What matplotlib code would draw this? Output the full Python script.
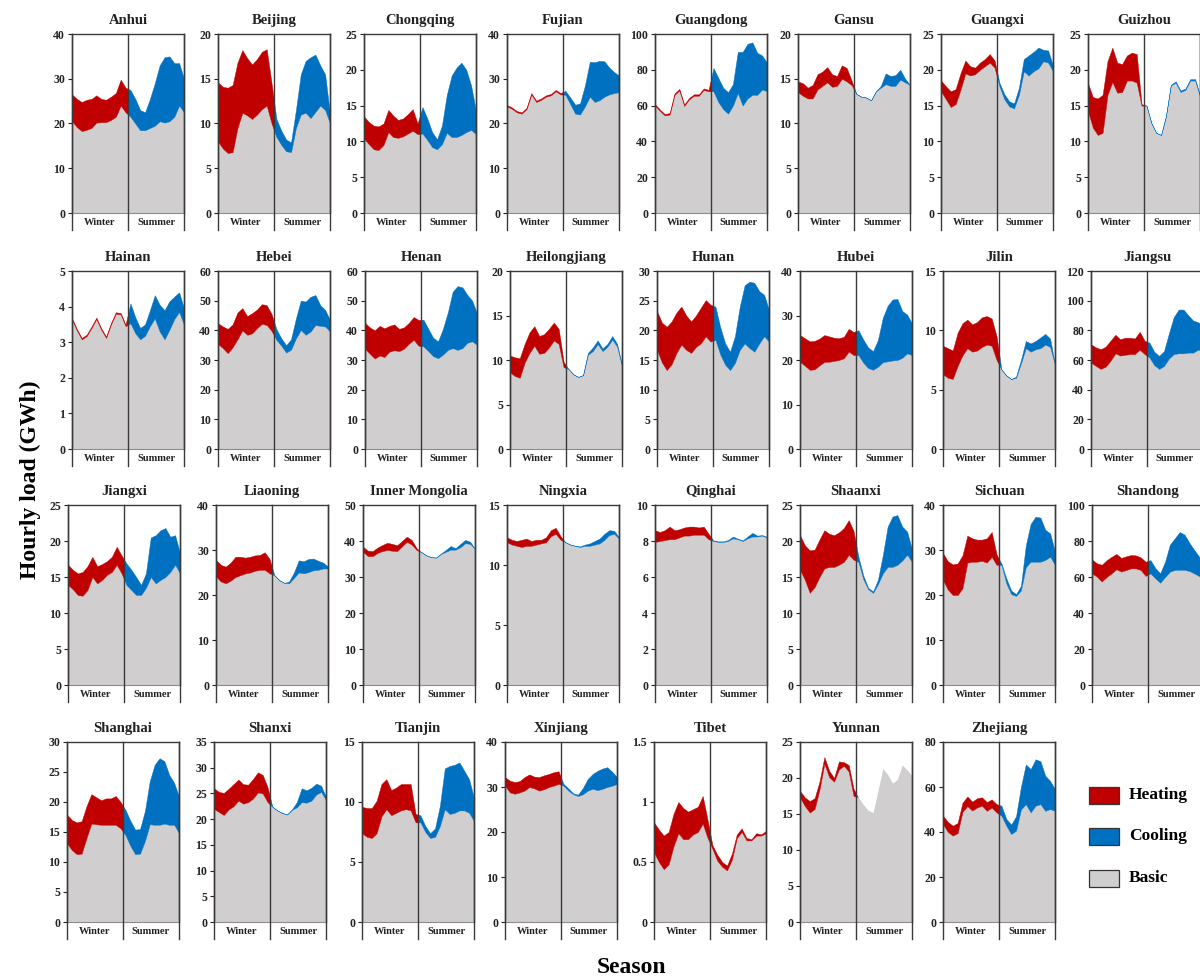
import matplotlib
matplotlib.use("Agg")
import matplotlib.pyplot as plt
from matplotlib.patches import Rectangle
import numpy as np

plt.rcParams['font.family'] = ['Liberation Serif', 'DejaVu Serif']
plt.rcParams['font.weight'] = 'bold'

# ---------------------------------------------------------------- data
provinces = ['Anhui', 'Beijing', 'Chongqing', 'Fujian', 'Guangdong', 'Gansu', 'Guangxi', 'Guizhou',
             'Hainan', 'Hebei', 'Henan', 'Heilongjiang', 'Hunan', 'Hubei', 'Jilin', 'Jiangsu',
             'Jiangxi', 'Liaoning', 'Inner Mongolia', 'Ningxia', 'Qinghai', 'Shaanxi', 'Sichuan', 'Shandong',
             'Shanghai', 'Shanxi', 'Tianjin', 'Xinjiang', 'Tibet', 'Yunnan', 'Zhejiang']

y_max = [40, 20, 25, 40, 100, 20, 25, 25,
         5, 60, 60, 20, 30, 40, 15, 120,
         25, 40, 50, 15, 10, 25, 40, 100,
         30, 35, 15, 40, 1.5, 25, 80]

y_step = [10, 5, 5, 10, 20, 5, 5, 5,
          1, 10, 10, 5, 5, 10, 5, 20,
          5, 10, 10, 5, 2, 5, 10, 20,
          5, 5, 5, 10, 0.5, 5, 20]

# load carried by the extra band in summer (heating for Tibet, cooling elsewhere)
summer_use = ['Cooling'] * 28 + ['Heating', 'Cooling', 'Cooling']

# two-hourly profiles (GWh), 12 values per season
winter_basic = [
    [20.5, 19.2, 18.3, 18.6, 19, 20.2, 20.3, 20.3, 20.8, 21.5, 24, 22.5],
    [8, 7.2, 6.7, 6.8, 9.5, 11.2, 10.9, 10.5, 11, 11.6, 12, 10],
    [10.4, 9.6, 8.9, 8.8, 9.5, 11.3, 10.6, 10.5, 10.7, 11.1, 11.5, 11],
    [23.8, 23.3, 22.5, 22.2, 23.2, 26.5, 24.8, 25.3, 26, 26.3, 27.2, 26.5],
    [60, 57, 54.5, 55, 66, 68.5, 59.8, 63.5, 65.5, 65.5, 68.8, 68],
    [13.5, 13.1, 12.8, 12.8, 13.8, 14.2, 14.6, 14.1, 14.2, 15, 14.7, 14.3],
    [17, 15.9, 14.8, 15.2, 17.2, 19.5, 19.2, 19.4, 20, 20.5, 21, 20.3],
    [14.2, 11.9, 10.9, 11.2, 16.5, 18.3, 16.8, 16.9, 18.5, 18.5, 18.2, 15],
    [3.63, 3.33, 3.08, 3.17, 3.4, 3.65, 3.35, 3.12, 3.5, 3.8, 3.78, 3.45],
    [35.4, 34, 32.3, 34.3, 37, 40, 38.5, 39, 40.7, 42.2, 41.8, 39.8],
    [33.8, 32.1, 30.5, 31.5, 31, 32.8, 33.3, 33, 33.8, 35.5, 36.8, 34.8],
    [8.6, 8.2, 8, 9.7, 10.8, 11.6, 10.7, 10.8, 11.4, 12.2, 11.8, 9.2],
    [16.7, 14.6, 13.3, 14.3, 16.2, 17.6, 16.7, 16.2, 17.2, 17.8, 19, 18.1],
    [19.6, 18.7, 17.8, 17.9, 18.8, 19.6, 19.6, 19.8, 20, 20.4, 21.9, 21.1],
    [6.3, 6, 5.9, 7, 7.9, 8.5, 8.2, 8.3, 8.6, 8.8, 8.7, 7.5],
    [58.3, 56, 54, 55.5, 59.5, 64.5, 63, 63.5, 64, 64, 67, 64],
    [13.9, 13.3, 12.5, 12.4, 13.2, 15, 14.1, 14.6, 15.3, 15.7, 16.7, 15.5],
    [24.1, 23, 22.6, 23.2, 24, 24.4, 24.8, 25, 25.4, 25.6, 25.6, 24.8],
    [37, 35.8, 35.8, 36.7, 37.2, 37.5, 37.3, 37.2, 38.5, 39.8, 39, 37.5],
    [11.9, 11.7, 11.6, 11.5, 11.6, 11.6, 11.7, 11.8, 11.9, 12.4, 12.6, 12.1],
    [7.95, 8, 8.05, 8.1, 8.1, 8.2, 8.3, 8.3, 8.35, 8.35, 8.35, 8.1],
    [16, 14.6, 12.8, 13.6, 15, 16.2, 16.4, 16.4, 16.7, 17.1, 18.1, 17.4],
    [23.3, 21.2, 20, 20, 21.5, 27.2, 27.4, 27.4, 27.6, 27.2, 28.5, 26.7],
    [62, 60.2, 57.5, 60, 62, 64.3, 63, 63.9, 64.8, 64.8, 63.9, 60.6],
    [13.1, 12, 11.3, 11.4, 14, 16.4, 16.3, 16.2, 16.2, 16.2, 16.2, 15.6],
    [22, 21.4, 20.8, 21.9, 22.5, 23.6, 23, 23.3, 24, 25.2, 25, 23.3],
    [7.4, 7.1, 7, 7.4, 8.8, 9.4, 8.9, 9.1, 9.3, 9.4, 9.3, 8.3],
    [30.3, 28.8, 28.5, 28.8, 29.2, 30, 29.7, 29.2, 29.5, 30, 30.3, 30.7],
    [0.58, 0.5, 0.44, 0.48, 0.63, 0.74, 0.69, 0.69, 0.73, 0.75, 0.82, 0.7],
    [17.3, 16.1, 15.2, 15.7, 18.4, 22, 20.1, 19.5, 21.2, 21.7, 20.9, 17.5],
    [43.5, 40, 38.4, 39.5, 49, 51.5, 49.5, 50.9, 51.7, 49.4, 50.9, 48.7],
]

winter_total = [
    [26.5, 25.5, 24.8, 25.3, 25.5, 26.3, 25.5, 25.3, 26, 26.8, 29.8, 28],
    [14.6, 14.1, 14, 14.3, 16.8, 18.2, 17.3, 16.6, 17.2, 18, 18.3, 14.5],
    [13.5, 12.7, 12.2, 12.1, 12.5, 14.4, 13.6, 13.0, 13.2, 13.8, 14.5, 12.5],
    [24.1, 23.6, 22.8, 22.5, 23.5, 26.8, 25.1, 25.6, 26.3, 26.6, 27.5, 26.8],
    [60.8, 57.8, 55.3, 55.8, 66.8, 69.3, 60.6, 64.3, 66.3, 66.3, 69.6, 68.8],
    [14.7, 14.5, 14, 14.3, 15.5, 15.8, 16.3, 15.5, 15.3, 16.5, 16.2, 14.8],
    [18.5, 17.7, 17, 17.3, 19.5, 21.3, 20.5, 20.3, 21, 21.5, 22.2, 21.3],
    [18.1, 16.2, 16, 16.5, 21.2, 23.1, 21, 20.8, 22, 22.4, 22.2, 15.2],
    [3.67, 3.37, 3.12, 3.21, 3.44, 3.69, 3.39, 3.16, 3.54, 3.84, 3.82, 3.49],
    [42.4, 41.3, 40.5, 42, 46, 47.5, 44.8, 45.8, 47, 48.8, 48.5, 45.5],
    [42.5, 41, 40, 41.5, 40.7, 41.5, 42, 40.5, 41, 42.5, 44.5, 43.5],
    [10.5, 10.3, 10.2, 11.8, 13.1, 13.8, 12.7, 12.9, 13.5, 14.2, 13.5, 9.8],
    [23.2, 21.3, 20.6, 21.5, 23, 24, 22.5, 21.5, 22.5, 23.8, 25.1, 24.3],
    [25.6, 24.9, 24.2, 24.3, 24.8, 25.6, 25.3, 25, 24.9, 25.2, 27, 26.3],
    [8.7, 8.5, 8.3, 9.8, 10.6, 10.9, 10.5, 10.7, 11.1, 11.2, 11, 9.5],
    [70.6, 68.5, 67.3, 69, 73, 77, 74, 75, 75, 74.5, 79, 73],
    [16.7, 16, 15.5, 15.7, 16.5, 17.8, 16.5, 16.8, 17.2, 17.8, 19.2, 18],
    [27.8, 26.7, 26.3, 27.2, 28.5, 28.5, 28.3, 28.5, 28.8, 28.9, 29.5, 28],
    [38.4, 37.3, 37.2, 38.2, 38.9, 39.5, 39.2, 38.8, 40, 41.2, 40.3, 38],
    [12.3, 12.1, 12, 12.1, 12.2, 12, 12.1, 12.1, 12.3, 12.9, 13.1, 12.4],
    [8.6, 8.5, 8.6, 8.8, 8.6, 8.65, 8.75, 8.8, 8.8, 8.75, 8.8, 8.4],
    [20.8, 19.4, 18.7, 18.8, 20.2, 21.5, 21, 20.8, 21.2, 21.8, 22.9, 21.4],
    [29.3, 27.5, 26.8, 27, 28.8, 33.2, 32.6, 32.3, 32.3, 32.6, 34, 29],
    [69.8, 67.6, 66.8, 69.3, 71.2, 72.8, 70.6, 71.5, 72.2, 72, 70.9, 68.5],
    [17.9, 17, 16.6, 16.8, 19.3, 21.3, 20.8, 20.3, 20.6, 20.6, 21, 20],
    [26, 25.3, 25.1, 25.9, 26.8, 27.7, 26.8, 26.7, 27.8, 29.1, 28.6, 26.2],
    [9.6, 9.5, 9.5, 10.1, 11.5, 11.9, 11, 11.2, 11.5, 11.5, 11.5, 9],
    [32.2, 31.4, 31.1, 31.3, 32.2, 32.8, 32.3, 32.2, 32.6, 32.9, 33.3, 33.5],
    [0.83, 0.77, 0.72, 0.75, 0.9, 1.0, 0.95, 0.92, 0.94, 0.96, 1.05, 0.85],
    [18.2, 17.3, 16.8, 17.2, 19.5, 22.9, 21, 20, 22.3, 22.2, 21.8, 18.5],
    [47.2, 44.5, 42.8, 44, 53, 55.8, 53.5, 55, 55.4, 53.3, 54.5, 52.4],
]

summer_basic = [
    [21.5, 20, 18.5, 18.5, 19, 19.5, 20.5, 20.2, 20.5, 21.5, 24, 22.5],
    [8.5, 7.6, 6.9, 6.8, 9.5, 11, 11.2, 10.6, 11.3, 12, 11.5, 10],
    [11.1, 10.2, 9.2, 8.9, 9.6, 11.2, 10.6, 10.6, 10.9, 11.3, 11.6, 11],
    [26.4, 24.3, 22.2, 22, 23.8, 26, 24.8, 25.2, 26, 26.5, 26.8, 27],
    [68, 62, 58, 55.5, 60, 67, 60, 64, 66, 66, 69, 68],
    [13.3, 13, 12.9, 12.6, 13.6, 14, 14.4, 14.2, 14.2, 14.9, 14.6, 14.3],
    [17.7, 15.9, 14.9, 14.6, 16.5, 19.8, 19.2, 19.8, 20.2, 21.2, 21, 19.8],
    [15, 12.6, 11.2, 10.9, 13.5, 17.8, 18.2, 16.9, 17.2, 18.5, 18.5, 16.3],
    [3.53, 3.25, 3.08, 3.18, 3.45, 3.67, 3.3, 3.08, 3.35, 3.65, 3.85, 3.49],
    [36.8, 34.8, 32.5, 33.5, 37.3, 40.1, 38.5, 39.6, 41.8, 41.5, 41.3, 39.6],
    [34.6, 33, 31.3, 30.6, 31.8, 33.4, 34, 33.4, 34, 35.8, 36.3, 35.1],
    [9, 8.4, 8.1, 8.3, 10.6, 11, 11.8, 11, 11.5, 12.3, 11.5, 9.3],
    [18.4, 15.9, 14.2, 13.3, 14.5, 16.7, 17.8, 17, 16.4, 17.8, 19, 18.1],
    [21.1, 19.4, 18.2, 17.8, 18.5, 19.5, 19.7, 19.9, 20, 20.5, 21.5, 21.1],
    [6.7, 6.2, 5.9, 6, 7.2, 8.5, 8.2, 8.4, 8.5, 8.8, 8.6, 7.1],
    [61.7, 56.5, 54, 56, 61, 64, 64.5, 64.5, 65, 65, 67, 66],
    [13.9, 13.2, 12.5, 12.5, 13.5, 15, 14.1, 14.6, 15, 15.7, 16.7, 15.5],
    [24.4, 23.3, 22.7, 22.6, 23.8, 25, 24.8, 25.1, 25.5, 25.6, 25.9, 25.9],
    [36.9, 36, 35.5, 35.4, 36.4, 37, 37.6, 37.6, 38.3, 39.4, 39.2, 37.8],
    [11.9, 11.7, 11.6, 11.5, 11.6, 11.6, 11.7, 11.8, 12.1, 12.5, 12.6, 12.2],
    [8, 7.95, 7.95, 8, 8.15, 8.1, 8, 8.15, 8.25, 8.25, 8.3, 8.2],
    [17.1, 14.7, 13.3, 12.8, 14, 15.5, 16.4, 16.4, 16.7, 17.3, 18.1, 17.1],
    [26.7, 22.6, 20.2, 19.8, 21, 26.2, 27.4, 27.4, 27.4, 27.8, 28.5, 26.7],
    [62, 59.3, 56.8, 60, 63, 63.9, 64, 64, 63.3, 62, 60.5, 60.2],
    [14.5, 12.7, 11.3, 11.4, 13.5, 16.3, 16.2, 16.2, 16.4, 16.2, 16.2, 14.8],
    [22.4, 21.7, 21.2, 20.9, 21.8, 22.3, 23.3, 23.2, 23.6, 24.8, 25.3, 23.7],
    [8.3, 7.5, 7, 7.1, 8, 9.4, 9, 9.1, 9.3, 9.3, 9.1, 8.4],
    [30.3, 29.2, 28.4, 28, 28.4, 29.2, 29.6, 29.3, 29.6, 30, 30.3, 30.7],
    [0.61, 0.51, 0.46, 0.43, 0.52, 0.7, 0.75, 0.68, 0.68, 0.72, 0.72, 0.74],
    [17.3, 16.3, 15.5, 15.2, 18.2, 21.3, 20.5, 19.3, 19.8, 21.8, 21.1, 20.3],
    [47.2, 42.8, 39.1, 40.6, 50, 52.4, 48.7, 51.7, 52.4, 49.4, 50.2, 49.4],
]

summer_total = [
    [27.5, 25.5, 23, 22.5, 25.5, 29, 33, 34.8, 35, 33.5, 33.5, 30],
    [10.5, 9.2, 8.2, 7.9, 11.5, 15.5, 17, 17.4, 17.7, 16.5, 15.5, 11],
    [14.8, 13.2, 11.3, 10.3, 12.2, 16.5, 19.2, 20.3, 21, 20, 17.8, 14.2],
    [27.3, 25.8, 24.2, 24.5, 28.5, 33.8, 33.7, 34, 33.9, 32.5, 31.5, 30.7],
    [81, 75.5, 70, 67.5, 72, 90, 90, 94.5, 95.3, 89.5, 88, 84],
    [13.3, 13, 12.9, 12.6, 13.6, 14.2, 15.6, 15.3, 15.4, 16.0, 15.0, 14.3],
    [18.2, 16.6, 15.6, 15.3, 17.5, 21.5, 22, 22.5, 23.1, 22.8, 22.7, 20.6],
    [15, 12.6, 11.2, 10.9, 13.5, 17.9, 18.4, 17.1, 17.4, 18.7, 18.7, 16.4],
    [4.09, 3.7, 3.4, 3.5, 3.9, 4.32, 4.05, 3.9, 4.15, 4.28, 4.4, 3.95],
    [40.4, 37.3, 35, 37, 44, 50, 49.7, 51.3, 51.9, 48.5, 46.9, 43.5],
    [43.6, 40.5, 37.5, 36.3, 40.5, 46, 53, 54.9, 54.5, 52, 50, 45.8],
    [9, 8.4, 8.1, 8.3, 10.8, 11.4, 12.2, 11.3, 11.8, 12.7, 11.8, 9.4],
    [24, 20.5, 17.8, 16.4, 19, 24, 27.6, 28.2, 28, 26.6, 26, 23.4],
    [26.7, 24.6, 22.8, 22, 24.5, 29.5, 32.2, 33.6, 33.7, 31, 30.2, 28.2],
    [6.7, 6.2, 5.9, 6.1, 7.5, 9.1, 8.9, 9.1, 9.4, 9.7, 9.3, 7.1],
    [71.7, 65.5, 62.8, 66, 78, 89, 94, 94, 90, 86.5, 85.5, 83],
    [16.9, 16, 15, 13.9, 15.5, 20.5, 20.8, 21.5, 21.8, 20.6, 20.8, 18.3],
    [24.4, 23.3, 22.7, 23, 25, 27.7, 27.5, 28, 28.1, 27.6, 27.2, 26.3],
    [36.9, 36, 35.5, 35.4, 36.5, 37.5, 38.6, 38, 39.2, 40.3, 39.8, 37.8],
    [11.9, 11.7, 11.6, 11.55, 11.7, 11.8, 12, 12.2, 12.6, 12.9, 12.85, 12.3],
    [8.03, 7.98, 7.98, 8.05, 8.25, 8.13, 8.03, 8.25, 8.45, 8.3, 8.33, 8.23],
    [17.8, 15.2, 13.5, 13, 14.6, 18, 22, 23.4, 23.6, 22, 21.3, 18.8],
    [27, 23.7, 21, 20.2, 22, 31, 35.8, 37.4, 37.2, 34.5, 33.7, 29.6],
    [69.4, 65, 62, 68.5, 78, 81.5, 85, 83.5, 79, 75, 71.3, 68.5],
    [18.7, 16.9, 15.4, 15.5, 18.5, 23.5, 26.2, 27.3, 26.8, 24.5, 23.2, 20.9],
    [22.4, 21.7, 21.2, 20.9, 21.9, 23.3, 26, 25.6, 26.1, 26.9, 26.5, 24.3],
    [8.9, 8, 7.4, 7.8, 9.7, 12.8, 13, 13.1, 13.3, 12.6, 11.9, 10.3],
    [30.7, 29.7, 28.6, 28.3, 29.8, 31.8, 32.9, 33.6, 34.1, 34.4, 33.4, 32.2],
    [0.64, 0.56, 0.5, 0.47, 0.57, 0.73, 0.78, 0.7, 0.69, 0.74, 0.73, 0.76],
    [17.3, 16.3, 15.5, 15.2, 18.2, 21.3, 20.5, 19.3, 19.8, 21.8, 21.1, 20.3],
    [51.7, 45.8, 43.3, 47, 60, 70, 68, 72.3, 71.5, 65, 62.7, 59],
]

# ---------------------------------------------------------------- style
COLORS = {'Heating': '#C00000', 'Cooling': '#0070C0', 'Basic': '#D0CECF'}
FRAME = '#3A3A3A'

W, H = 1200, 980
fig = plt.figure(figsize=(W / 100, H / 100), dpi=100)

# panel grid in pixels: left edge per column, top edge and zero line per row
col_left = [[72, 218, 364, 507, 655, 798, 941, 1088],
            [72, 218, 365, 510, 657, 800, 943, 1091],
            [68, 216, 363, 507, 655, 800, 943, 1092],
            [67, 214, 362, 505, 654, 800, 943]]
row_top = [34, 271, 505, 742]
row_zero = [213, 449, 685, 922]
AX_W = 112
BAND = 17  # depth of the season label strip under each panel

n_w = len(winter_basic[0])
for k, name in enumerate(provinces):
    r, c = divmod(k, 8)
    left, top, zero = col_left[r][c], row_top[r], row_zero[r]
    ax = fig.add_axes([left / W, 1 - zero / H, AX_W / W, (zero - top) / H])

    base = np.array(winter_basic[k] + summer_basic[k], dtype=float)
    total = np.array(winter_total[k] + summer_total[k], dtype=float)
    x = np.arange(base.size)
    mid = n_w - 0.5
    ymax = y_max[k]

    ax.fill_between(x, 0, base, color=COLORS['Basic'], lw=0, zorder=1)
    halves = ((0, mid, 'Heating', slice(0, n_w)),
              (mid, x[-1] - mid, summer_use[k], slice(n_w, None)))
    for x0, width, use, sl in halves:
        has_extra = np.any(total[sl] - base[sl] > 1e-9)
        band = ax.fill_between(x, base, total, color=COLORS[use],
                               lw=0.3 if has_extra else 0, zorder=2)
        clip = Rectangle((x0, -ymax), width, 3 * ymax, transform=ax.transData)
        band.set_clip_path(clip)

    ax.set_xlim(0, x[-1])
    ax.set_ylim(0, ymax)
    ticks = np.arange(0, ymax + y_step[k] / 2, y_step[k])
    ax.set_yticks(ticks)
    ax.set_yticklabels([f'{t:g}' for t in ticks])
    ax.set_xticks([])
    ax.tick_params(axis='y', direction='out', length=3, width=0.8, pad=2,
                   labelsize=8.5, colors='#222222')

    for side in ('left', 'right', 'top'):
        ax.spines[side].set_color(FRAME)
        ax.spines[side].set_linewidth(1.0)
    ax.spines['bottom'].set_color('#8C8C8C')
    ax.spines['bottom'].set_linewidth(0.8)

    depth = BAND / (zero - top)
    for xf in (0, 0.5, 1):
        ax.plot([xf, xf], [-depth, 1], transform=ax.transAxes, color=FRAME,
                lw=1.0, clip_on=False, zorder=5)
    ax.text(0.25, -depth * 0.55, 'Winter', transform=ax.transAxes, ha='center',
            va='center', fontsize=7.5, fontweight='bold', color='#222222')
    ax.text(0.75, -depth * 0.55, 'Summer', transform=ax.transAxes, ha='center',
            va='center', fontsize=7.5, fontweight='bold', color='#222222')
    ax.set_title(name, fontsize=10.5, fontweight='bold', pad=7, color='#222222')

# shared axis titles
fig.text(30 / W, 1 - 480 / H, 'Hourly load (GWh)', rotation=90, ha='center', va='center',
         fontsize=17, fontweight='bold')
fig.text(631 / W, 1 - 967 / H, 'Season', ha='center', va='center',
         fontsize=17, fontweight='bold')

# legend in the free grid slot
for label, yc in (('Heating', 795), ('Cooling', 836), ('Basic', 878)):
    fig.patches.append(Rectangle((1089 / W, 1 - (yc + 8.5) / H), 30 / W, 17 / H,
                                 transform=fig.transFigure, facecolor=COLORS[label],
                                 edgecolor='#333333', lw=0.9))
    fig.text(1129 / W, 1 - yc / H, label, ha='left', va='center',
             fontsize=12.5, fontweight='bold')

fig.savefig('out.png', dpi=100)
